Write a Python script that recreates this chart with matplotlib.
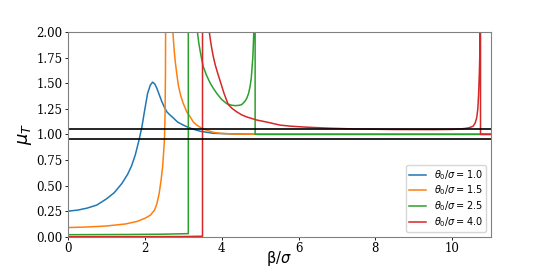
import matplotlib
matplotlib.use("Agg")
import matplotlib.pyplot as plt
import numpy as np

nan = np.nan

# theta0/sigma = 1.0
x1 = [0, 0.25, 0.5, 0.75, 1.0, 1.2, 1.4, 1.55, 1.65, 1.75, 1.85, 1.92, 2.0, 2.07, 2.14, 2.2,
      2.26, 2.31, 2.38, 2.44, 2.5, 2.57, 2.65, 2.74, 2.85, 3.0, 3.18, 3.44, 3.78, 4.3, 5.0, 7.0, 11.0]
y1 = [0.25, 0.26, 0.28, 0.31, 0.37, 0.43, 0.52, 0.61, 0.69, 0.80, 0.95, 1.07, 1.25, 1.40, 1.48, 1.51,
      1.49, 1.45, 1.38, 1.32, 1.27, 1.22, 1.19, 1.16, 1.12, 1.09, 1.06, 1.03, 1.01, 1.004, 1.0, 1.0, 1.0]

# theta0/sigma = 1.5
x2 = [0, 0.5, 1.0, 1.5, 1.8, 2.0, 2.14, 2.25, 2.31, 2.37, 2.42, 2.46, 2.49, 2.51, 2.525, 2.535, 2.54, 2.545, nan,
      2.71, 2.73, 2.76, 2.79, 2.83, 2.87, 2.93, 3.0, 3.09, 3.18, 3.26, 3.35, 3.48, 3.61, 3.78, 3.96, 4.3, 5.0, 11.0]
y2 = [0.09, 0.095, 0.105, 0.125, 0.15, 0.18, 0.21, 0.26, 0.32, 0.42, 0.55, 0.68, 0.84, 0.96, 1.2, 1.6, 2.2, 3.0, nan,
      2.3, 1.99, 1.83, 1.71, 1.59, 1.48, 1.38, 1.30, 1.22, 1.17, 1.12, 1.09, 1.06, 1.04, 1.02, 1.01, 1.003, 1.0, 1.0]

# theta0/sigma = 2.5
x3 = [0, 1.5, 2.5, 3.10, 3.13, 3.13, nan,
      3.355, 3.37, 3.40, 3.44, 3.48, 3.52, 3.60, 3.70, 3.78, 3.87, 4.0, 4.13, 4.25, 4.35, 4.45, 4.52,
      4.60, 4.65, 4.70, 4.74, 4.77, 4.79, 4.81, 4.82, 4.835, 4.85, 4.86, nan,
      4.87, 4.87, 11.0]
y3 = [0.02, 0.022, 0.025, 0.03, 0.03, 3.0, nan,
      2.2, 1.99, 1.90, 1.81, 1.73, 1.66, 1.58, 1.50, 1.45, 1.40, 1.34, 1.30, 1.285, 1.28, 1.283, 1.29,
      1.32, 1.35, 1.40, 1.47, 1.55, 1.65, 1.75, 1.84, 1.99, 2.5, 3.0, nan,
      3.0, 1.0, 1.0]

# theta0/sigma = 4.0
x4 = [0, 3.0, 3.50, 3.50, nan,
      3.665, 3.68, 3.71, 3.74, 3.78, 3.83, 3.90, 3.96, 4.06, 4.17, 4.28, 4.39, 4.52, 4.65, 4.78, 4.91,
      5.17, 5.52, 5.78, 6.2, 6.8, 7.5, 8.5, 9.5, 10.0, 10.2, 10.35, 10.45, 10.55, 10.6, 10.64, 10.67,
      10.69, 10.71, 10.72, 10.73, 10.735, nan,
      10.74, 10.74, 11.0]
y4 = [0.0, 0.002, 0.005, 3.0, nan,
      2.2, 1.99, 1.91, 1.84, 1.76, 1.68, 1.59, 1.52, 1.40, 1.29, 1.25, 1.22, 1.19, 1.17, 1.155, 1.14,
      1.12, 1.09, 1.08, 1.07, 1.06, 1.052, 1.047, 1.046, 1.048, 1.052, 1.058, 1.065, 1.08, 1.11, 1.16, 1.25,
      1.39, 1.6, 1.75, 2.2, 3.0, nan,
      3.0, 1.0, 1.0]

labels = [r"$\theta_0/\sigma = 1.0$", r"$\theta_0/\sigma = 1.5$",
          r"$\theta_0/\sigma = 2.5$", r"$\theta_0/\sigma = 4.0$"]

fig, ax = plt.subplots(figsize=(5.45, 2.66), dpi=100)

ax.plot(x1, y1, color="tab:blue", lw=1.1, label=labels[0])
ax.plot(x2, y2, color="tab:orange", lw=1.1, label=labels[1])
ax.plot(x3, y3, color="tab:green", lw=1.1, label=labels[2])
ax.plot(x4, y4, color="tab:red", lw=1.1, label=labels[3])

ax.axhline(1.05, color="black", lw=1.2)
ax.axhline(0.95, color="black", lw=1.2)

ax.set_xlim(0, 11)
ax.set_ylim(0, 2)
ax.set_yticks([0, 0.25, 0.5, 0.75, 1.0, 1.25, 1.5, 1.75, 2.0])
ax.set_xticks([0, 2, 4, 6, 8, 10])

for s in ax.spines.values():
    s.set_color("#808080")
ax.tick_params(length=2.5, width=0.6, pad=1.5, labelsize=8.5)
for t in ax.get_xticklabels() + ax.get_yticklabels():
    t.set_fontfamily("DejaVu Serif")

ax.set_xlabel(r"β/$\sigma$", fontsize=10.5)
ax.xaxis.set_label_coords(0.5, -0.058)
ax.set_ylabel(r"$\mu_T$", fontsize=13, labelpad=2)

ax.legend(loc="lower right", fontsize=7, frameon=True, labelspacing=0.2,
          handlelength=1.8, borderpad=0.3)

fig.savefig("out.png", dpi=100)
